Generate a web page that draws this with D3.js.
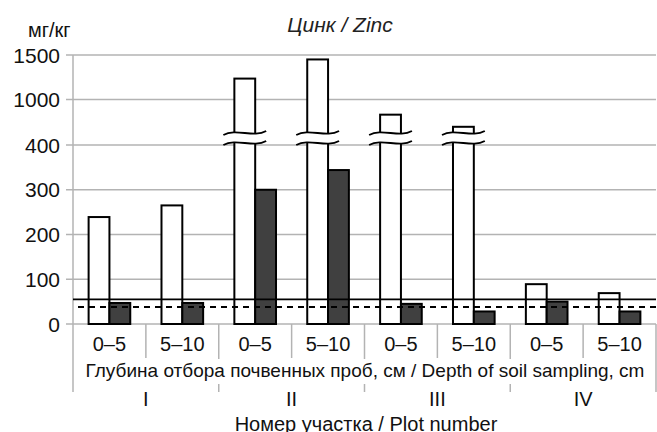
<!DOCTYPE html>
<html>
<head>
<meta charset="utf-8">
<script src="https://cdn.jsdelivr.net/npm/d3@7"></script>
<style>
  body { margin: 0; background: #fff; }
  text { font-family: "Liberation Sans", Arial, sans-serif; }
</style>
</head>
<body>
<div id="chart"></div>
<script>
// data
const plots = ['I', 'II', 'III', 'IV'];
const depths = ['0–5', '5–10'];
const whiteValues = [239, 265, 1235, 1450, 800, 640, 89, 69];
const darkValues = [47, 47, 300, 344, 45, 28, 50, 28];
const yTicks = [0, 100, 200, 300, 400, 1000, 1500];
const limitSolid = 55;
const limitDashed = 38;

const width = 657, height = 432;
const left = 73, right = 656;

const svg = d3.select('#chart').append('svg')
  .attr('width', width).attr('height', height);

// categories: one per plot/depth pair
const cats = [];
plots.forEach(p => depths.forEach(d => cats.push(p + '|' + d)));

const x = d3.scaleBand().domain(cats).range([left, right]);
const xInner = d3.scaleBand().domain(['w', 'd'])
  .range([0, x.bandwidth()]).paddingOuter(0.75);
const xGroup = d3.scaleBand().domain(plots).range([left, right]);

// broken axis: 0-400 then 1000-1500, equal tick spacing
const y = d3.scaleLinear().domain([0, 400, 1000, 1500]).range([324, 145, 99.5, 55]);

const grid = '#b3b3b3';

// gridlines
svg.append('g').selectAll('line').data(yTicks).join('line')
  .attr('x1', left - 7).attr('x2', right)
  .attr('y1', d => y(d)).attr('y2', d => y(d))
  .attr('stroke', grid).attr('stroke-width', 1.5);

// y axis line
svg.append('line').attr('x1', left).attr('x2', left)
  .attr('y1', y(1500)).attr('y2', 392)
  .attr('stroke', grid).attr('stroke-width', 1.5);

// y tick labels
svg.append('g').selectAll('text').data(yTicks).join('text')
  .attr('x', 60).attr('y', d => y(d) + 7.5)
  .attr('text-anchor', 'end').attr('font-size', 21).attr('fill', '#111')
  .text(d => d);

svg.append('text').attr('x', 28).attr('y', 37)
  .attr('font-size', 20).attr('fill', '#111').text('мг/кг');

svg.append('text').attr('x', 340).attr('y', 32)
  .attr('text-anchor', 'middle').attr('font-size', 21)
  .attr('font-style', 'italic').attr('fill', '#222').text('Цинк / Zinc');

// category separators
svg.append('g').selectAll('line').data(cats.slice(1).concat(['end'])).join('line')
  .attr('x1', d => d === 'end' ? right : x(d)).attr('x2', d => d === 'end' ? right : x(d))
  .attr('y1', y(0)).attr('y2', 358)
  .attr('stroke', grid).attr('stroke-width', 1.5);

// group separators further down
svg.append('g').selectAll('line').data(plots.slice(1).concat(['end'])).join('line')
  .attr('x1', d => d === 'end' ? right : xGroup(d)).attr('x2', d => d === 'end' ? right : xGroup(d))
  .attr('y1', 358).attr('y2', 392)
  .attr('stroke', grid).attr('stroke-width', 1.5);

// bars
const bars = svg.append('g');
bars.selectAll('rect.w').data(whiteValues).join('rect')
  .attr('class', 'w')
  .attr('x', (d, i) => x(cats[i]) + xInner('w'))
  .attr('width', xInner.bandwidth())
  .attr('y', d => y(d)).attr('height', d => y(0) - y(d))
  .attr('fill', '#fff').attr('stroke', '#000').attr('stroke-width', 2);

bars.selectAll('rect.d').data(darkValues).join('rect')
  .attr('class', 'd')
  .attr('x', (d, i) => x(cats[i]) + xInner('d'))
  .attr('width', xInner.bandwidth())
  .attr('y', d => y(d)).attr('height', d => y(0) - y(d))
  .attr('fill', '#404040').attr('stroke', '#000').attr('stroke-width', 2);

// break marks on bars above 400
const yb1 = y(400) - 12, yb2 = y(400) - 2;
const broken = whiteValues.map((v, i) => ({v, i})).filter(d => d.v > 400);
const wave = (x0, w, yc) =>
  `M${x0},${yc + 2} C${x0 + w * 0.3},${yc - 5} ${x0 + w * 0.7},${yc + 5} ${x0 + w},${yc - 2}`;
broken.forEach(d => {
  const bx = x(cats[d.i]) + xInner('w') - 11;
  const bw = xInner.bandwidth() + 22;
  svg.append('rect').attr('x', bx + 2).attr('y', yb1).attr('width', bw - 4)
    .attr('height', yb2 - yb1).attr('fill', '#fff');
  [yb1, yb2].forEach(yc => svg.append('path').attr('d', wave(bx, bw, yc))
    .attr('fill', 'none').attr('stroke', '#000').attr('stroke-width', 1.8));
});

// limit lines
svg.append('line').attr('x1', left).attr('x2', right)
  .attr('y1', y(limitSolid)).attr('y2', y(limitSolid))
  .attr('stroke', '#000').attr('stroke-width', 1.8);
svg.append('line').attr('x1', left).attr('x2', right)
  .attr('y1', y(limitDashed)).attr('y2', y(limitDashed))
  .attr('stroke', '#000').attr('stroke-width', 2)
  .attr('stroke-dasharray', '6,5').attr('stroke-dashoffset', -5);

// x labels
svg.append('g').selectAll('text').data(cats).join('text')
  .attr('x', d => x(d) + x.bandwidth() / 2).attr('y', 351)
  .attr('text-anchor', 'middle').attr('font-size', 20).attr('fill', '#111')
  .text(d => d.split('|')[1]);

const depthLabel = svg.append('text').attr('x', 365).attr('y', 377)
  .attr('text-anchor', 'middle').attr('font-size', 19).attr('fill', '#111')
  .text('Глубина отбора почвенных проб, см / Depth of soil sampling, cm');
const bb = depthLabel.node().getBBox();
svg.insert('rect', () => depthLabel.node())
  .attr('x', bb.x - 3).attr('y', 359).attr('width', bb.width + 6).attr('height', 25)
  .attr('fill', '#fff');

svg.append('g').selectAll('text').data(plots).join('text')
  .attr('x', d => xGroup(d) + xGroup.bandwidth() / 2).attr('y', 406)
  .attr('text-anchor', 'middle').attr('font-size', 20).attr('fill', '#111')
  .text(d => d);

svg.append('text').attr('x', 366).attr('y', 431)
  .attr('text-anchor', 'middle').attr('font-size', 20).attr('fill', '#111')
  .text('Номер участка / Plot number');
</script>
</body>
</html>
